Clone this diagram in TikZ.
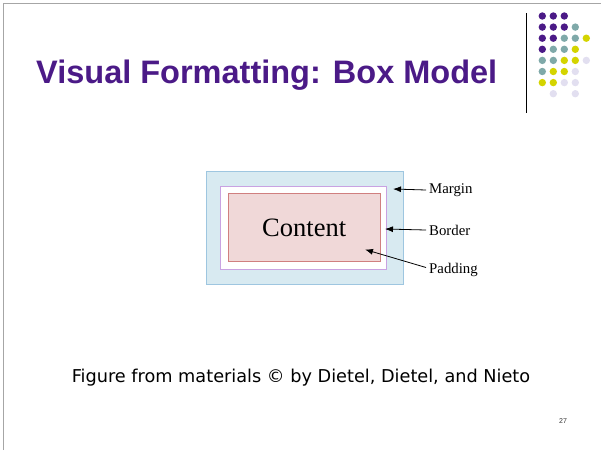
\documentclass[tikz,border=0pt]{standalone}
\usepackage{fontspec}
\setmainfont{Liberation Serif}
\setsansfont{Liberation Sans}
\newfontfamily\captionfont{DejaVu Sans}
\usetikzlibrary{arrows.meta,positioning}
\definecolor{titlepurple}{HTML}{4B1A87}
\definecolor{dotteal}{HTML}{7FA9A9}
\definecolor{dotyellow}{HTML}{D4D400}
\definecolor{dotlilac}{HTML}{E2DFF0}
\definecolor{marginblue}{HTML}{D8EAF1}
\definecolor{marginedge}{HTML}{9EC6E0}
\definecolor{borderlilac}{HTML}{C9A2E2}
\definecolor{contentpink}{HTML}{F0D8D8}
\definecolor{contentedge}{HTML}{D07F7F}
\tikzset{
  marginbox/.style={draw=marginedge,fill=marginblue,line width=.8pt,minimum width=197pt,minimum height=113pt,inner sep=0pt},
  borderbox/.style={draw=borderlilac,fill=white,line width=.8pt,minimum width=166pt,minimum height=83pt,inner sep=0pt},
  contentbox/.style={draw=contentedge,fill=contentpink,line width=.8pt,minimum width=152pt,minimum height=68pt,inner sep=0pt,font=\fontsize{26.5}{30}\selectfont},
  partlabel/.style={anchor=west,inner sep=3pt,font=\fontsize{14.8}{17}\selectfont},
  pointer/.style={-{Latex[length=8pt,width=6pt]},line width=.8pt},
  framerule/.style={draw=gray!70,line width=1.2pt},
}

\begin{document}
\begin{tikzpicture}[x=1pt,y=-1pt]
    \useasboundingbox (0,0) rectangle (601,450);
    % slide frame
    \draw[framerule] (3.5,450) -- (3.5,3.5) -- (601,3.5);
    % logo dots
    \draw[line width=1pt] (526,13) -- (526,113);
    \foreach \col/\row/\clr in {0/0/titlepurple,1/0/titlepurple,2/0/titlepurple,
        0/1/titlepurple,1/1/titlepurple,2/1/titlepurple,3/1/dotteal,
        0/2/titlepurple,1/2/titlepurple,2/2/dotteal,3/2/dotteal,4/2/dotyellow,
        0/3/titlepurple,1/3/dotteal,2/3/dotteal,3/3/dotyellow,
        0/4/dotteal,1/4/dotteal,2/4/dotyellow,3/4/dotyellow,4/4/dotlilac,
        0/5/dotteal,1/5/dotyellow,2/5/dotyellow,3/5/dotlilac,
        0/6/dotyellow,1/6/dotyellow,2/6/dotlilac,3/6/dotlilac,
        1/7/dotlilac,3/7/dotlilac}
      \fill[\clr] (542.3+11*\col,16+11.1*\row) circle (3.7);
    % title
    \node[anchor=west,inner sep=0pt,text=titlepurple,font=\sffamily\bfseries\fontsize{32.5}{36}\selectfont] (title) at (36,75) {Visual Formatting: Box Model};
    % box model
    \node[marginbox] (margin) at (304.5,228.2) {};
    \node[borderbox] (border) at (303.8,227.7) {};
    \node[contentbox] (content) at (304.2,227.5) {Content};
    \node[partlabel] (marginlbl) at (426,190) {Margin};
    \node[partlabel] (borderlbl) at (426,230) {Border};
    \node[partlabel] (paddinglbl) at (426,270) {Padding};
    \coordinate (margintip) at (393,189);
    \coordinate (bordertip) at (385,229);
    \coordinate (paddingtip) at (365,249.5);
    \draw[pointer] (marginlbl.west) -- (margintip);
    \draw[pointer] (borderlbl.west) -- (bordertip);
    \draw[pointer] (paddinglbl.west|-0,267.5) -- (paddingtip);
    % caption
    \node[font=\captionfont\fontsize{17.7}{21}\selectfont] (caption) at (301,378) {Figure from materials © by Dietel, Dietel, and Nieto};
    \node[font=\sffamily\fontsize{7}{8}\selectfont,text=black!80] (pagenum) at (563,421) {27};
\end{tikzpicture}
\end{document}
